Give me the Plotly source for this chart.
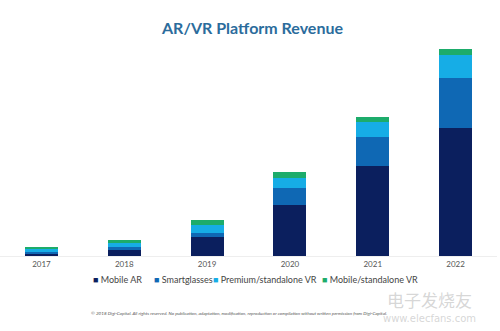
import plotly.graph_objects as go

years = ["2017", "2018", "2019", "2020", "2021", "2022"]
series_names = ["Mobile AR", "Smartglasses", "Premium/standalone VR", "Mobile/standalone VR"]
mobile_ar = [1.0, 3.0, 9.7, 25.5, 45.0, 64.2]
smartglasses = [1.2, 1.7, 1.7, 8.7, 14.3, 25.0]
premium_vr = [1.7, 2.0, 4.2, 5.0, 7.7, 11.3]
mobile_vr = [0.8, 1.5, 2.2, 3.0, 2.5, 2.8]
colors = ["#0b1f5e", "#0f68b4", "#16ade6", "#1dac6b"]

series_values = [mobile_ar, smartglasses, premium_vr, mobile_vr]

fig = go.Figure()
for name, vals, c in zip(series_names, series_values, colors):
    fig.add_trace(go.Bar(x=years, y=vals, name=name, marker=dict(color=c, line=dict(width=0)),
                         width=0.4, showlegend=False))

# legend as annotations
legend_x = [0.183, 0.305, 0.425, 0.643]
for name, c, lx in zip(series_names, colors, legend_x):
    fig.add_annotation(xref="paper", yref="paper", x=lx, y=-0.11, xanchor="left", yanchor="middle",
                       text=f"<span style='color:{c}'>■</span> {name}", showarrow=False,
                       font=dict(family="Lato, sans-serif", size=9, color="#444444"))

fig.add_annotation(xref="paper", yref="paper", x=0.18, y=-0.262, xanchor="left", yanchor="middle",
                   text="<i>© 2018 Digi-Capital. All rights reserved. No publication, adaptation, modification, reproduction or compilation without written permission from Digi-Capital.</i>",
                   showarrow=False, font=dict(family="Lato, sans-serif", size=4.6, color="#555555"))

# watermark
fig.add_annotation(xref="paper", yref="paper", x=0.865, y=-0.20, xanchor="center", yanchor="middle",
                   text="电子发烧友", showarrow=False,
                   font=dict(family="Noto Sans CJK SC", size=17, color="rgba(180,180,180,0.55)"))
fig.add_annotation(xref="paper", yref="paper", x=0.865, y=-0.29, xanchor="center", yanchor="middle",
                   text="www.elecfans.com", showarrow=False,
                   font=dict(family="DejaVu Sans", size=10, color="rgba(180,180,180,0.55)"))

fig.update_layout(
    barmode="stack",
    width=500, height=331,
    margin=dict(l=0, r=3, t=40, b=75),
    paper_bgcolor="white", plot_bgcolor="white",
    title=dict(text="<b>AR/VR Platform Revenue</b>", x=0.505, xanchor="center", y=0.915, yanchor="middle",
               font=dict(family="Lato, sans-serif", size=16, color="#2b6c9c")),
    xaxis=dict(showgrid=False, showline=True, linecolor="#eeeeee", linewidth=1, ticks="",
               tickfont=dict(family="Lato, sans-serif", size=8, color="#555555")),
    yaxis=dict(visible=False, range=[0, 108]),
    bargap=0.6,
)

fig.write_html("out.html")
